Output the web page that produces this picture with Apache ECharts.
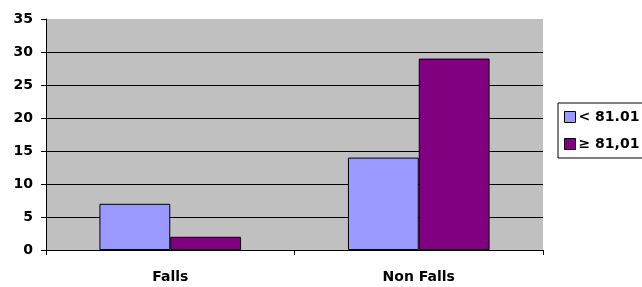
<!DOCTYPE html>
<html>
<head>
<meta charset="utf-8">
<script src="https://cdn.jsdelivr.net/npm/echarts@6/dist/echarts.min.js"></script>
<style>
  html, body { margin: 0; padding: 0; background: #fff; }
  #main { width: 642px; height: 287px; }
</style>
</head>
<body>
<div id="main"></div>
<script>
var categories = ['Falls', 'Non Falls'];
var seriesNames = ['< 81.01', '≥ 81,01'];
var lowValues = [7, 14];
var highValues = [2, 29];

var myChart = echarts.init(document.getElementById('main'));
var font = '"DejaVu Sans", sans-serif';

var option = {
    animation: false,
    backgroundColor: '#fff',
    grid: {
        left: 46, right: 99, top: 19, bottom: 37,
        show: true, backgroundColor: '#C0C0C0', borderWidth: 0
    },
    legend: {
        orient: 'vertical',
        left: 558, top: 103,
        padding: [7, 6, 7, 6],
        borderColor: '#000', borderWidth: 1,
        itemWidth: 11, itemHeight: 11, itemGap: 13,
        icon: 'rect',
        itemStyle: { borderColor: '#000', borderWidth: 1 },
        textStyle: { fontFamily: font, fontWeight: 'bold', fontSize: 14, color: '#000', padding: [0, 0, 0, -2] },
        data: seriesNames
    },
    xAxis: {
        type: 'category',
        data: categories,
        axisLine: { lineStyle: { color: '#000', width: 1 } },
        axisTick: { show: true, length: 5, lineStyle: { color: '#000' } },
        axisLabel: { fontFamily: font, fontWeight: 'bold', fontSize: 14, color: '#000', margin: 20 }
    },
    yAxis: {
        type: 'value',
        min: 0, max: 35, interval: 5,
        axisLine: { show: true, lineStyle: { color: '#000', width: 1 } },
        axisTick: { show: true, length: 5, lineStyle: { color: '#000' } },
        splitLine: { showMinLine: false, showMaxLine: false, lineStyle: { color: '#000', width: 1 } },
        axisLabel: { fontFamily: font, fontWeight: 'bold', fontSize: 14, color: '#000', margin: 13 }
    },
    series: [{
        name: seriesNames[0],
        type: 'bar',
        data: lowValues,
        barGap: '0%',
        barCategoryGap: '43%',
        itemStyle: { color: '#9999FF', borderColor: '#000', borderWidth: 1 }
    }, {
        name: seriesNames[1],
        type: 'bar',
        data: highValues,
        itemStyle: { color: '#800080', borderColor: '#000', borderWidth: 1 }
    }]
};
myChart.setOption(option);
</script>
</body>
</html>
